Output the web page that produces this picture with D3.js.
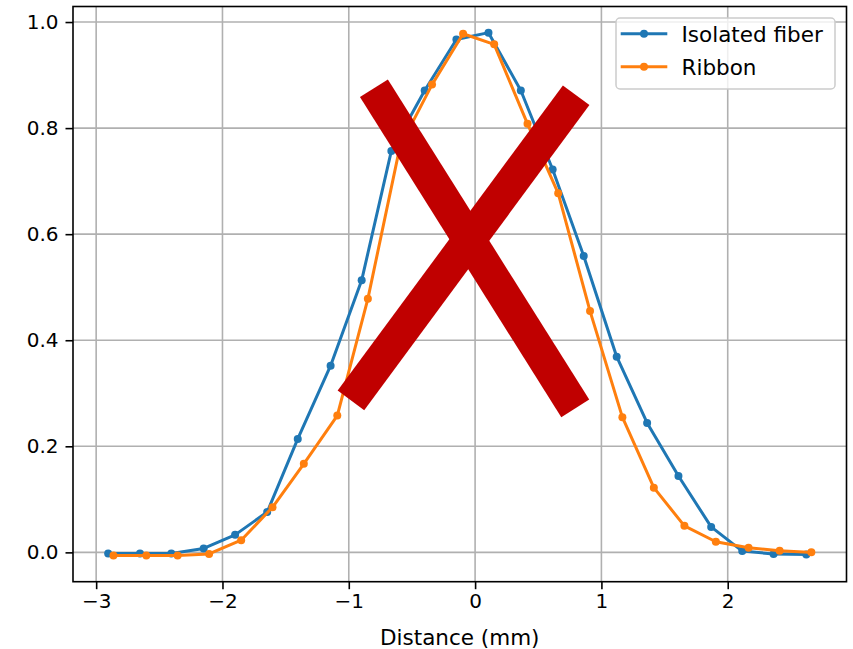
<!DOCTYPE html>
<html>
<head>
<meta charset="utf-8">
<script src="https://cdn.jsdelivr.net/npm/d3@7"></script>
<style>
  html, body { margin: 0; padding: 0; background: #ffffff; }
  svg { display: block; }
  text { font-family: "DejaVu Sans", sans-serif; fill: #000; }
</style>
</head>
<body>
<div id="chart"></div>
<script>
// Transverse profile: normalised signal versus distance (mm)
const isolatedX = [-2.905, -2.653, -2.405, -2.149, -1.900, -1.646, -1.404, -1.144, -0.898, -0.663, -0.399, -0.148,
                   0.106, 0.362, 0.614, 0.860, 1.121, 1.362, 1.610, 1.869, 2.115, 2.363, 2.622];
const isolatedY = [-0.002, -0.002, -0.002, 0.0075, 0.033, 0.076, 0.214, 0.352, 0.513, 0.757, 0.871, 0.967,
                   0.980, 0.871, 0.722, 0.559, 0.369, 0.244, 0.144, 0.048, 0.0024, -0.003, -0.004];
const ribbonX = [-2.863, -2.603, -2.355, -2.106, -1.852, -1.604, -1.356, -1.091, -0.849, -0.595, -0.341, -0.095,
                 0.151, 0.415, 0.658, 0.910, 1.166, 1.415, 1.657, 1.906, 2.165, 2.411, 2.662];
const ribbonY = [-0.006, -0.006, -0.006, -0.003, 0.023, 0.085, 0.167, 0.258, 0.478, 0.765, 0.882, 0.978,
                 0.958, 0.808, 0.677, 0.455, 0.255, 0.122, 0.050, 0.020, 0.0087, 0.003, 0.000];

const seriesNames = ["Isolated fiber", "Ribbon"];
const seriesColors = ["#1f77b4", "#ff7f0e"];

const xTicks = [-3, -2, -1, 0, 1, 2];
const yTicks = [0.0, 0.2, 0.4, 0.6, 0.8, 1.0];
const xLabel = "Distance (mm)";

// Cross mark over the profile, ends given in data units
const crossStrokes = [
  [[-0.801, 0.875], [0.793, 0.2715]],
  [[-0.983, 0.2866], [0.800, 0.862]]
];

const W = 853, H = 649;
const plot = { left: 73, right: 846.5, top: 6.5, bottom: 581.7 };

const series = [
  { name: seriesNames[0], color: seriesColors[0], pts: isolatedX.map((x, i) => [x, isolatedY[i]]) },
  { name: seriesNames[1], color: seriesColors[1], pts: ribbonX.map((x, i) => [x, ribbonY[i]]) }
];

// autoscale with a 5% margin on each side
function padded(vals) {
  const lo = d3.min(vals), hi = d3.max(vals), m = (hi - lo) * 0.05;
  return [lo - m, hi + m];
}
const x = d3.scaleLinear().domain(padded(isolatedX.concat(ribbonX))).range([plot.left, plot.right]);
const y = d3.scaleLinear().domain(padded(isolatedY.concat(ribbonY))).range([plot.bottom, plot.top]);

const svg = d3.select("#chart").append("svg").attr("width", W).attr("height", H);
svg.append("rect").attr("width", W).attr("height", H).attr("fill", "#fff");

const fmtX = d => (d < 0 ? "\u2212" + Math.abs(d) : String(d));
const fmtY = d3.format(".1f");

// grid
const grid = svg.append("g");
grid.selectAll(".gx").data(xTicks).join("line")
  .attr("x1", d => x(d)).attr("x2", d => x(d))
  .attr("y1", plot.top).attr("y2", plot.bottom)
  .attr("stroke", "#b0b0b0").attr("stroke-width", 1.6);
grid.selectAll(".gy").data(yTicks).join("line")
  .attr("y1", d => y(d)).attr("y2", d => y(d))
  .attr("x1", plot.left).attr("x2", plot.right)
  .attr("stroke", "#b0b0b0").attr("stroke-width", 1.6);

// axes
const xAxis = d3.axisBottom(x).tickValues(xTicks).tickFormat(fmtX).tickSize(7.5).tickPadding(5);
const yAxis = d3.axisLeft(y).tickValues(yTicks).tickFormat(fmtY).tickSize(7.5).tickPadding(7);

const gx = svg.append("g").attr("transform", `translate(0,${plot.bottom})`).call(xAxis);
const gy = svg.append("g").attr("transform", `translate(${plot.left},0)`).call(yAxis);
[gx, gy].forEach(g => {
  g.select(".domain").remove();
  g.selectAll(".tick line").attr("stroke", "#000").attr("stroke-width", 1.6);
  g.selectAll(".tick text").attr("font-size", 20).attr("font-family", "DejaVu Sans").attr("fill", "#000");
});

svg.append("text")
  .attr("x", (plot.left + plot.right) / 2).attr("y", 645)
  .attr("text-anchor", "middle").attr("font-size", 21.5)
  .text(xLabel);

// data lines
const clip = svg.append("clipPath").attr("id", "plotclip").append("rect")
  .attr("x", plot.left).attr("y", plot.top)
  .attr("width", plot.right - plot.left).attr("height", plot.bottom - plot.top);

const line = d3.line().x(d => x(d[0])).y(d => y(d[1]));
const dataG = svg.append("g").attr("clip-path", "url(#plotclip)");
series.forEach(s => {
  dataG.append("path").attr("d", line(s.pts))
    .attr("fill", "none").attr("stroke", s.color).attr("stroke-width", 3)
    .attr("stroke-linejoin", "round").attr("stroke-linecap", "square");
  dataG.selectAll(null).data(s.pts).join("circle")
    .attr("cx", d => x(d[0])).attr("cy", d => y(d[1])).attr("r", 4)
    .attr("fill", s.color);
});

// cross mark
svg.append("g").selectAll("line").data(crossStrokes).join("line")
  .attr("x1", d => x(d[0][0])).attr("y1", d => y(d[0][1]))
  .attr("x2", d => x(d[1][0])).attr("y2", d => y(d[1][1]))
  .attr("stroke", "#c00000").attr("stroke-width", 33).attr("stroke-linecap", "butt");

// frame
svg.append("rect")
  .attr("x", plot.left).attr("y", plot.top)
  .attr("width", plot.right - plot.left).attr("height", plot.bottom - plot.top)
  .attr("fill", "none").attr("stroke", "#000").attr("stroke-width", 1.6);

// legend
const legend = svg.append("g").attr("transform", "translate(616,18)");
legend.append("rect").attr("width", 219).attr("height", 71).attr("rx", 4)
  .attr("fill", "#fff").attr("fill-opacity", 0.8)
  .attr("stroke", "#cccccc").attr("stroke-width", 1.5);
series.forEach((s, i) => {
  const cy = 15.7 + i * 33;
  legend.append("line").attr("x1", 6.2).attr("x2", 49.8).attr("y1", cy).attr("y2", cy)
    .attr("stroke", s.color).attr("stroke-width", 3).attr("stroke-linecap", "square");
  legend.append("circle").attr("cx", 28).attr("cy", cy).attr("r", 4).attr("fill", s.color);
  legend.append("text").attr("x", 65.5).attr("y", cy + 8.4)
    .attr("font-size", 21.5).text(s.name);
});
</script>
</body>
</html>
